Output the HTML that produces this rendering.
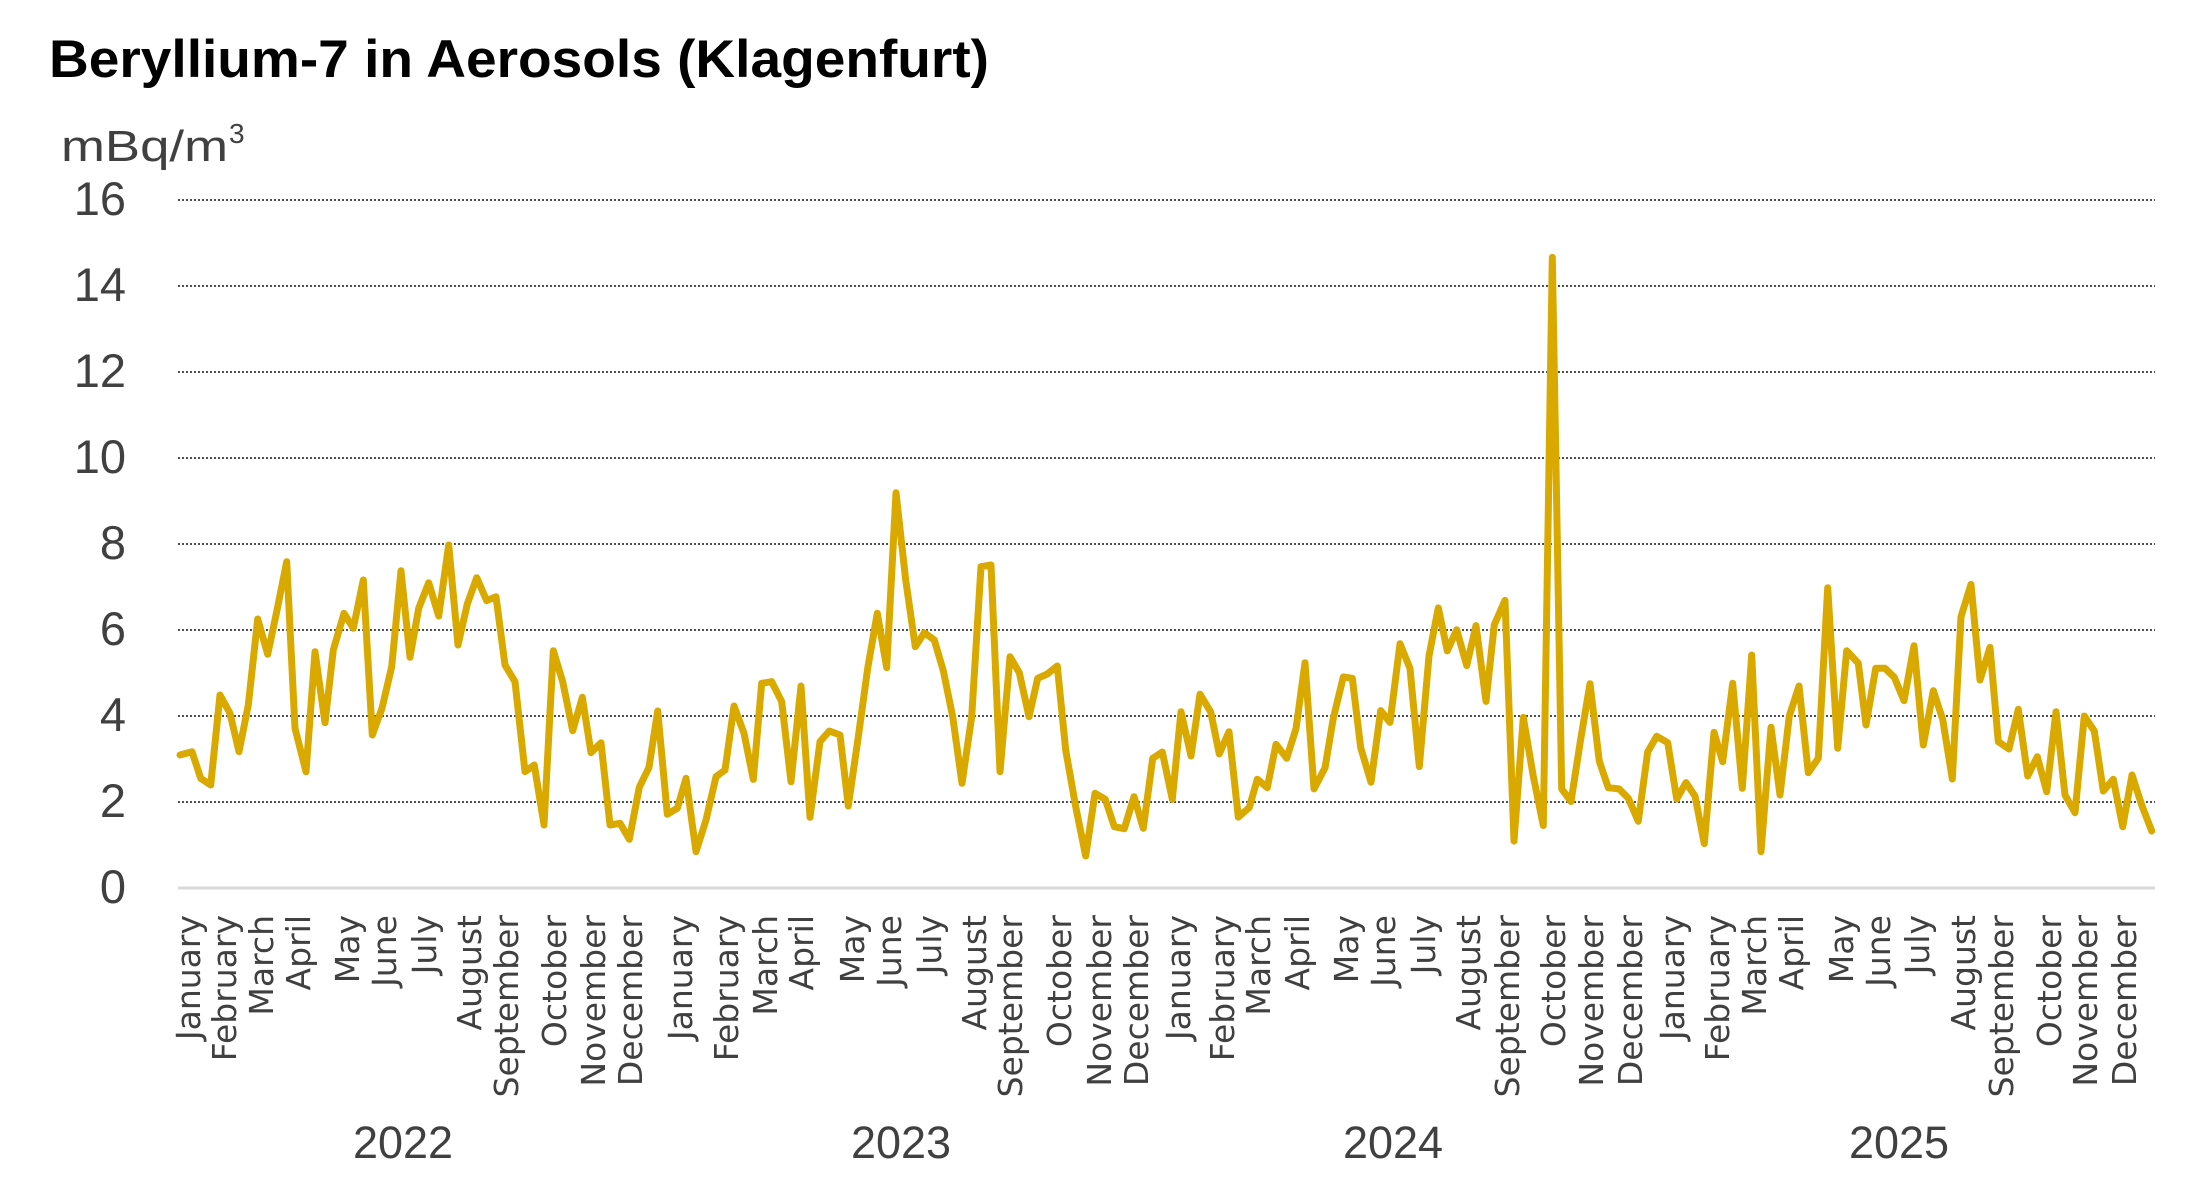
<!DOCTYPE html>
<html><head><meta charset="utf-8"><style>html,body{margin:0;padding:0;background:#fff}svg{display:block}</style></head>
<body>
<svg width="2189" height="1185" viewBox="0 0 2189 1185" xmlns="http://www.w3.org/2000/svg">
<text x="49" y="77" font-family="Liberation Sans, sans-serif" font-weight="bold" font-size="53" textLength="940" lengthAdjust="spacingAndGlyphs" fill="#000">Beryllium-7 in Aerosols (Klagenfurt)</text>
<text x="61" y="161" font-family="Liberation Sans, sans-serif" font-size="44" textLength="167" lengthAdjust="spacingAndGlyphs" fill="#404040">mBq/m</text>
<text x="229" y="143" font-family="Liberation Sans, sans-serif" font-size="28" fill="#404040">3</text>
<g stroke="#505050" stroke-width="2" stroke-dasharray="2 2">
<line x1="178" y1="200" x2="2155" y2="200"/><line x1="178" y1="286" x2="2155" y2="286"/><line x1="178" y1="372" x2="2155" y2="372"/><line x1="178" y1="458" x2="2155" y2="458"/><line x1="178" y1="544" x2="2155" y2="544"/><line x1="178" y1="630" x2="2155" y2="630"/><line x1="178" y1="716" x2="2155" y2="716"/><line x1="178" y1="802" x2="2155" y2="802"/>
</g>
<line x1="178" y1="888" x2="2155" y2="888" stroke="#d9d9d9" stroke-width="3"/>
<g font-family="Liberation Sans, sans-serif" font-size="47" fill="#404040" text-anchor="end">
<text x="126" y="215">16</text><text x="126" y="301">14</text><text x="126" y="387">12</text><text x="126" y="473">10</text><text x="126" y="559">8</text><text x="126" y="645">6</text><text x="126" y="731">4</text><text x="126" y="817">2</text><text x="126" y="903">0</text>
</g>
<polyline fill="none" stroke="#daa900" stroke-width="7" stroke-linejoin="round" stroke-linecap="round" points="180,755 192,751.7 200.7,778.3 210.7,785 220,695 230,713.3 239,751.7 248.3,705 257.7,619 267.7,654.3 276.7,611.7 286.7,561.7 295,728.3 306,771.7 315,651.7 325,722.7 333.3,650 344,613.3 353.3,628.3 363.3,580 372.3,735 382,708.3 391.7,666.7 401,570.7 410,657.3 418.7,608.3 428.7,582.7 438.7,616 448.7,545 458,645 467.3,604 476.7,577.7 486.7,600.7 496,596.7 505,665 515,681.7 525,771.7 534.3,765 544,825 553.3,650.7 562.7,681.7 572.7,730.7 582.3,697.3 591,752.7 601,742.7 610,825 620,823.3 629.3,839.3 639.3,787.3 649,767.3 657.7,711 667.3,814.3 677.3,808.3 686,778.3 696,851.7 706,820 716,776.7 725,770 734,706 744,733.3 753.3,779.3 761.7,683.3 771.7,681.7 781.7,701.7 791,781.7 801,686 810,817.3 820,741.7 829.3,731 840,735 848.3,806 858.3,736.7 867.7,668.3 877.3,613.3 886.7,667.7 896,492.7 905.7,580 915.3,646.7 924.3,632.7 934.3,640 943.3,670.7 952.7,716.7 962,783.3 971.7,716.7 981,566.7 991,565 1000,771.7 1010,656.7 1019.3,672.7 1029,716.7 1037.7,678.3 1047.3,674 1057.3,666 1065.7,750 1075.7,806.7 1085.7,856 1095,793.3 1105.3,799.3 1114.3,826.7 1124.3,828.7 1134,796.7 1143.3,828.3 1152.7,758.3 1162.3,752 1172.3,799.3 1181,711.7 1191,756 1200,694.2 1210.7,711.9 1219.3,754 1229,731.7 1238.3,817.1 1249.3,807.5 1257.3,779.2 1267.3,787.7 1276,744.3 1286.7,758.2 1296,728.7 1305,662.7 1314,788.9 1325,767.9 1333.3,718.2 1343.3,677 1352.3,678.3 1360.7,747.7 1371,782.2 1380.7,710.6 1390,722.4 1400,643.7 1410,668.5 1419.3,766.6 1429,655.9 1438.3,607.9 1447.3,650.9 1456.7,629.8 1466.7,665.6 1476,625.6 1486,701.4 1494.3,624.8 1505,600.4 1514,841.1 1523.3,717.4 1533.3,776.3 1543.3,825.5 1552.3,257.4 1561.7,788.9 1571,801.5 1580.7,739.2 1590,683.7 1599.3,761.2 1608.3,787.7 1619,788.9 1628.3,798.2 1638.3,821.3 1647.7,751.9 1656.7,736.3 1667.7,742.6 1676.7,799 1686,782.6 1695,796.1 1704.3,843.6 1714,732.3 1722.7,761.7 1732.7,683.3 1742.3,788.3 1751.7,655 1761,851.7 1771,727.3 1780,795 1789.3,716 1799,686 1808.3,772.7 1818.3,758.3 1827.7,587.7 1837.7,748.3 1846.7,650.7 1858.3,663.3 1866,725 1875.7,668.3 1885,668.3 1894.3,677.3 1904,700.7 1914,645.7 1923.3,745 1933.3,690.7 1942.7,719.3 1952.3,779 1961,616.7 1971,584.3 1980,680 1990,647.3 1998.3,741.7 2009,749 2018.3,709.3 2027.7,776 2037.3,756.7 2046.7,791.7 2056,711.7 2065,795 2075,812.7 2084.3,716 2094.3,731 2103.3,791 2113.3,779.3 2122.7,826.7 2132,775 2141.7,805 2151.7,831"/>
<g font-family="DejaVu Sans, sans-serif" font-size="33" fill="#404040" text-anchor="end">
<text transform="translate(200,915) rotate(-90)">January</text>
<text transform="translate(236,915) rotate(-90)">February</text>
<text transform="translate(273,915) rotate(-90)">March</text>
<text transform="translate(310,915) rotate(-90)">April</text>
<text transform="translate(359,915) rotate(-90)">May</text>
<text transform="translate(396,915) rotate(-90)">June</text>
<text transform="translate(436,915) rotate(-90)">July</text>
<text transform="translate(481,915) rotate(-90)">August</text>
<text transform="translate(518,915) rotate(-90)">September</text>
<text transform="translate(566,915) rotate(-90)">October</text>
<text transform="translate(605,915) rotate(-90)">November</text>
<text transform="translate(642,915) rotate(-90)">December</text>
<text transform="translate(692,915) rotate(-90)">January</text>
<text transform="translate(738,915) rotate(-90)">February</text>
<text transform="translate(777,915) rotate(-90)">March</text>
<text transform="translate(813,915) rotate(-90)">April</text>
<text transform="translate(864,915) rotate(-90)">May</text>
<text transform="translate(901,915) rotate(-90)">June</text>
<text transform="translate(941,915) rotate(-90)">July</text>
<text transform="translate(986,915) rotate(-90)">August</text>
<text transform="translate(1022,915) rotate(-90)">September</text>
<text transform="translate(1071,915) rotate(-90)">October</text>
<text transform="translate(1111,915) rotate(-90)">November</text>
<text transform="translate(1148,915) rotate(-90)">December</text>
<text transform="translate(1190,915) rotate(-90)">January</text>
<text transform="translate(1234,915) rotate(-90)">February</text>
<text transform="translate(1270,915) rotate(-90)">March</text>
<text transform="translate(1309,915) rotate(-90)">April</text>
<text transform="translate(1358,915) rotate(-90)">May</text>
<text transform="translate(1395,915) rotate(-90)">June</text>
<text transform="translate(1435,915) rotate(-90)">July</text>
<text transform="translate(1480,915) rotate(-90)">August</text>
<text transform="translate(1519,915) rotate(-90)">September</text>
<text transform="translate(1565,915) rotate(-90)">October</text>
<text transform="translate(1603,915) rotate(-90)">November</text>
<text transform="translate(1642,915) rotate(-90)">December</text>
<text transform="translate(1684,915) rotate(-90)">January</text>
<text transform="translate(1729,915) rotate(-90)">February</text>
<text transform="translate(1766,915) rotate(-90)">March</text>
<text transform="translate(1803,915) rotate(-90)">April</text>
<text transform="translate(1853,915) rotate(-90)">May</text>
<text transform="translate(1890,915) rotate(-90)">June</text>
<text transform="translate(1929,915) rotate(-90)">July</text>
<text transform="translate(1975,915) rotate(-90)">August</text>
<text transform="translate(2013,915) rotate(-90)">September</text>
<text transform="translate(2061,915) rotate(-90)">October</text>
<text transform="translate(2097,915) rotate(-90)">November</text>
<text transform="translate(2136,915) rotate(-90)">December</text>
</g>
<g font-family="Liberation Sans, sans-serif" font-size="45" fill="#404040" text-anchor="middle">
<text x="403" y="1158">2022</text><text x="901" y="1158">2023</text><text x="1393" y="1158">2024</text><text x="1899" y="1158">2025</text>
</g>
</svg>
</body></html>
